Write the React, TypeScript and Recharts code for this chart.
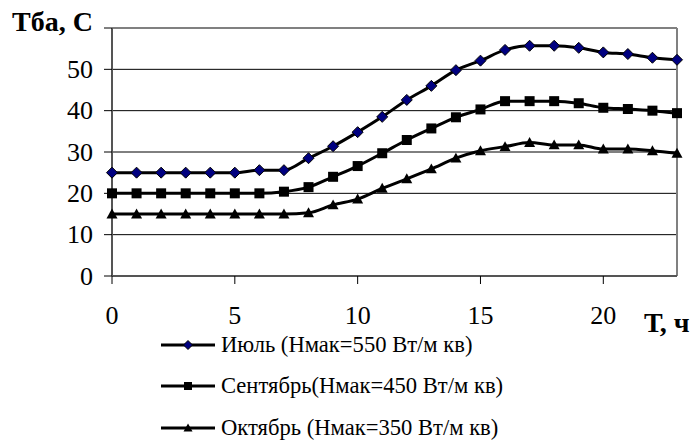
import { CartesianGrid, Label, Legend, Line, LineChart, ReferenceLine, XAxis, YAxis } from "recharts";

// Hours of the day and wall temperature for three months.
const hours = [0, 1, 2, 3, 4, 5, 6, 7, 8, 9, 10, 11, 12, 13, 14, 15, 16, 17, 18, 19, 20, 21, 22, 23];
const july = [25, 25, 25, 25, 25, 25, 25.6, 25.6, 28.5, 31.4, 34.8, 38.5, 42.6, 46.0, 49.8, 52.1, 54.7, 55.7, 55.7, 55.2, 54.1, 53.7, 52.8, 52.3];
const september = [20, 20, 20, 20, 20, 20, 20, 20.4, 21.5, 24.0, 26.6, 29.7, 32.9, 35.7, 38.4, 40.3, 42.3, 42.3, 42.3, 41.8, 40.7, 40.4, 40.0, 39.4];
const october = [15, 15, 15, 15, 15, 15, 15, 15, 15.3, 17.2, 18.6, 21.2, 23.5, 25.9, 28.5, 30.3, 31.3, 32.3, 31.7, 31.7, 30.7, 30.7, 30.3, 29.7];

const xTicks = [0, 5, 10, 15, 20];
const yTicks = [0, 10, 20, 30, 40, 50, 60];
const gridValues = [10, 20, 30, 40, 50];

const seriesOrder = ["july", "september", "october"];
const seriesNames = {
  july: "Июль (Нмак=550 Вт/м кв)",
  september: "Сентябрь(Нмак=450 Вт/м кв)",
  october: "Октябрь (Нмак=350 Вт/м кв)",
};

const rows = hours.map((h, i) => ({ h, july: july[i], september: september[i], october: october[i] }));

const FONT = "'Liberation Serif', 'Times New Roman', serif";

type Shape = "diamond" | "square" | "triangle";
const shapes: Record<string, Shape> = { july: "diamond", september: "square", october: "triangle" };

function Marker({ cx, cy, shape, r }: { cx: number; cy: number; shape: Shape; r: number }) {
  if (shape === "diamond") {
    return (
      <polygon
        points={`${cx},${cy - r} ${cx + r},${cy} ${cx},${cy + r} ${cx - r},${cy}`}
        fill="#000080"
        stroke="#000"
        strokeWidth={1}
      />
    );
  }
  if (shape === "square") {
    return <rect x={cx - r + 0.5} y={cy - r + 0.5} width={2 * r - 1} height={2 * r - 1} fill="#000" />;
  }
  return (
    <polygon
      points={`${cx},${cy - r} ${cx + r},${cy + r * 0.8} ${cx - r},${cy + r * 0.8}`}
      fill="#000"
    />
  );
}

const dotFor = (shape: Shape) => (props: any) => (
  <Marker key={`${shape}-${props.index}`} cx={props.cx} cy={props.cy} shape={shape} r={5.5} />
);

// legend keeps the original series order (recharts sorts by name otherwise)
function LegendBox(props: any) {
  const payload = [...(props.payload || [])].sort(
    (a: any, b: any) => seriesOrder.indexOf(a.dataKey) - seriesOrder.indexOf(b.dataKey)
  );
  return (
    <div style={{ fontFamily: FONT, fontSize: 22.6, color: "#000" }}>
      {payload.map((p: any) => (
        <div key={p.dataKey} style={{ display: "flex", alignItems: "center", height: 41.5, whiteSpace: "nowrap" }}>
          <svg width={60} height={20} style={{ display: "block" }}>
            <line x1={0} y1={10} x2={54} y2={10} stroke="#000" strokeWidth={3} />
            <Marker cx={27} cy={10} shape={shapes[p.dataKey]} r={4.5} />
          </svg>
          <span>{p.value}</span>
        </div>
      ))}
    </div>
  );
}

function YTick({ x, y, payload }: any) {
  if (payload.value === 60) {
    return (
      <text x={x} y={y} dy={-3} textAnchor="end" dominantBaseline="middle" fontFamily={FONT} fontSize={28} fontWeight="bold" fill="#000">
        Тба, С
      </text>
    );
  }
  return (
    <text x={x} y={y} textAnchor="end" dominantBaseline="central" fontFamily={FONT} fontSize={26} fill="#000">
      {payload.value}
    </text>
  );
}

export default function App() {
  return (
    <div style={{ position: "absolute", left: 0, top: 0, background: "#fff" }}>
      <LineChart width={696} height={445} data={rows} margin={{ top: 28, right: 19, bottom: 109, left: 52 }}>
        <CartesianGrid vertical={false} horizontalValues={gridValues} stroke="#000" strokeWidth={1} />
        <ReferenceLine y={60} stroke="#808080" strokeWidth={2} />
        <ReferenceLine x={23} stroke="#808080" strokeWidth={2} />
        <XAxis
          dataKey="h"
          type="number"
          domain={[0, 23]}
          ticks={xTicks}
          height={60}
          tickSize={8}
          tickMargin={22}
          axisLine={{ stroke: "#555", strokeWidth: 2 }}
          tickLine={{ stroke: "#000" }}
          tick={{ fontFamily: FONT, fontSize: 26, fill: "#000" }}
        >
          <Label
            content={({ viewBox }: any) => (
              <text x={viewBox.x + viewBox.width - 33} y={viewBox.y + 56} fontFamily={FONT} fontSize={28} fontWeight="bold" fill="#000">
                Т, ч
              </text>
            )}
          />
        </XAxis>
        <YAxis
          type="number"
          domain={[0, 60]}
          ticks={yTicks}
          width={60}
          tickSize={8}
          tickMargin={11}
          axisLine={{ stroke: "#555", strokeWidth: 2 }}
          tickLine={{ stroke: "#000" }}
          tick={<YTick />}
        />
        <Legend
          layout="vertical"
          verticalAlign="middle"
          align="center"
          content={<LegendBox />}
          wrapperStyle={{ left: 161, top: 324, width: 440 }}
        />
        <Line type="monotone" dataKey="july" name={seriesNames.july} stroke="#000" strokeWidth={3} dot={dotFor("diamond")} isAnimationActive={false} />
        <Line type="monotone" dataKey="september" name={seriesNames.september} stroke="#000" strokeWidth={3} dot={dotFor("square")} isAnimationActive={false} />
        <Line type="monotone" dataKey="october" name={seriesNames.october} stroke="#000" strokeWidth={3} dot={dotFor("triangle")} isAnimationActive={false} />
      </LineChart>
    </div>
  );
}
